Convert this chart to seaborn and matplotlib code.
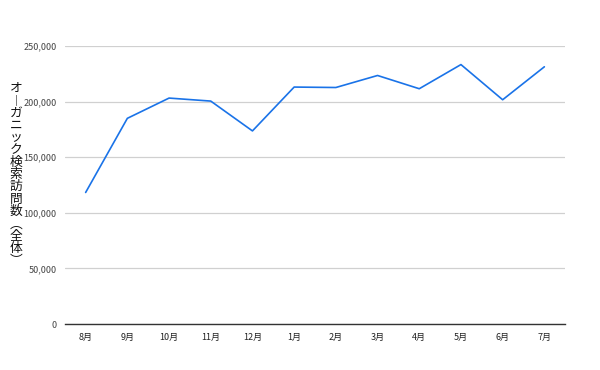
import matplotlib
matplotlib.use("Agg")
import matplotlib.pyplot as plt
import seaborn as sns
import pandas as pd

months = ["8月", "9月", "10月", "11月", "12月", "1月", "2月", "3月", "4月", "5月", "6月", "7月"]
visits = [118300, 184900, 203100, 200400, 173600, 213000, 212600, 223400, 211500, 233200, 201600, 231200]
yticks = [0, 50000, 100000, 150000, 200000, 250000]
# axis title in vertical writing (vertical presentation forms for ー and brackets)
ylabel_chars = ["オ", "︱", "ガ", "ニ", "ッ", "ク", "検", "索", "訪", "問", "数", "︵", "全", "体", "︶"]

sns.set_theme(style="white")
plt.rcParams["font.family"] = ["Noto Sans CJK JP", "DejaVu Sans"]

df = pd.DataFrame({"month": months, "visits": visits})

fig = plt.figure(figsize=(6, 3.7), dpi=100)
ax = fig.add_axes([0.108, 0.124, 0.834, 0.752])
sns.lineplot(data=df, x="month", y="visits", sort=False, ax=ax, color="#1a73e8", linewidth=1.2)

ax.set_xlim(-0.5, len(months) - 0.5)
ax.set_ylim(0, 250000)
ax.set_yticks(yticks)
ax.set_yticklabels([f"{v:,}" for v in yticks], fontsize=6.5, color="#444444")
ax.set_xticks(range(len(months)))
ax.set_xticklabels(months, fontsize=6.5, color="#222222")
ax.tick_params(axis="both", length=0, pad=6)
ax.grid(axis="y", color="#d0d0d0", linewidth=0.9)
ax.set_axisbelow(True)
for s in ["top", "right", "left"]:
    ax.spines[s].set_visible(False)
ax.spines["bottom"].set_color("#333333")
ax.spines["bottom"].set_linewidth(1.0)
ax.set_xlabel("")
ax.set_ylabel("")

# one upright character per row
H = 370.0
y0, pitch = 88.5, 12.3
for i, ch in enumerate(ylabel_chars):
    fig.text(16 / 600, 1 - (y0 + i * pitch) / H, ch, ha="center", va="center",
             fontsize=9.2, color="#111111")

fig.savefig("out.png", dpi=100, facecolor="white")
